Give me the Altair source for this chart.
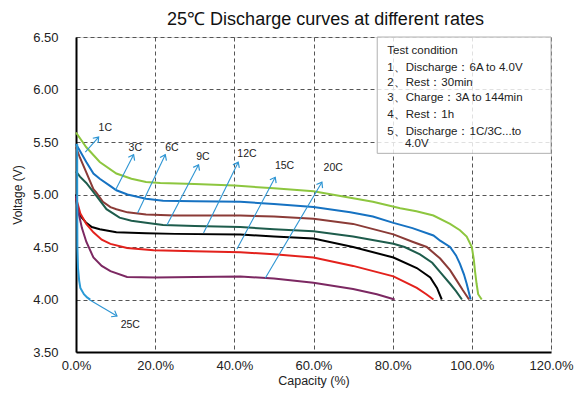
import math
import altair as alt
import pandas as pd

# ---------------- data ----------------
rates = ["1C", "3C", "6C", "9C", "12C", "15C", "20C", "25C"]
colors = ["#8DC63F", "#1672C2", "#8B3B37", "#1E5C4C", "#000000", "#E3211C", "#7C2862", "#2A9AD6"]

cap_1C = [0, 2.6, 6, 10.2, 14, 17.7, 21.3, 30, 40, 50, 60, 69.3, 75, 81.9, 86, 90.3, 94.5, 97, 98.7, 100, 100.5, 100.8, 101.2, 101.6, 102.5]
v_1C = [5.59, 5.45, 5.31, 5.20, 5.15, 5.12, 5.11, 5.10, 5.085, 5.06, 5.03, 4.97, 4.93, 4.87, 4.84, 4.80, 4.72, 4.66, 4.60, 4.50, 4.38, 4.27, 4.15, 4.05, 4.00]

cap_3C = [0, 2.6, 4.4, 6, 8.7, 10.2, 13, 17.7, 22, 30, 41.5, 50, 60, 69.3, 75, 80.2, 85, 90.3, 92, 94.5, 96, 97, 98, 98.7, 99.7]
v_3C = [5.48, 5.31, 5.20, 5.15, 5.08, 5.04, 5.00, 4.96, 4.94, 4.935, 4.93, 4.91, 4.88, 4.83, 4.79, 4.73, 4.68, 4.61, 4.56, 4.50, 4.42, 4.34, 4.24, 4.15, 4.00]

cap_6C = [0, 1, 2.6, 4.4, 5.1, 6.8, 8.7, 10.2, 13, 17.7, 25, 41.5, 50, 60, 70, 80.2, 85, 88.6, 92, 94.5, 96.2, 97.7, 99.3]
v_6C = [5.45, 5.35, 5.21, 5.05, 5.02, 4.93, 4.88, 4.86, 4.83, 4.81, 4.80, 4.80, 4.79, 4.77, 4.72, 4.62, 4.55, 4.50, 4.39, 4.28, 4.18, 4.09, 4.00]

cap_9C = [0, 1, 2.6, 5.1, 7.7, 11, 14, 17.7, 22, 30, 41.5, 50, 60, 70, 80.2, 83, 86.9, 90, 92, 94.5, 96, 97.5]
v_9C = [5.22, 5.17, 5.11, 4.99, 4.86, 4.78, 4.75, 4.73, 4.71, 4.70, 4.69, 4.67, 4.65, 4.60, 4.53, 4.50, 4.43, 4.35, 4.26, 4.15, 4.08, 4.00]

cap_12C = [0, 0.3, 1, 2.6, 4, 6, 10.2, 17.7, 25, 41.5, 50, 60, 70, 80.2, 86.1, 89.5, 91.2, 92.4]
v_12C = [5.00, 4.88, 4.80, 4.73, 4.69, 4.67, 4.64, 4.63, 4.625, 4.62, 4.60, 4.58, 4.50, 4.40, 4.30, 4.21, 4.11, 4.00]

cap_15C = [0, 0.5, 1.1, 2.6, 4.4, 6.5, 8.7, 12.9, 19.6, 30, 41.5, 50, 60, 70, 80.2, 86.1, 88.5, 90.3]
v_15C = [4.97, 4.90, 4.82, 4.72, 4.64, 4.57, 4.53, 4.49, 4.47, 4.46, 4.45, 4.43, 4.40, 4.32, 4.22, 4.11, 4.05, 4.00]

cap_20C = [0, 0.5, 1.5, 2.6, 4.4, 6.5, 8.7, 12.9, 20, 30, 41.5, 50, 60, 70, 76, 80.5]
v_20C = [4.99, 4.85, 4.68, 4.55, 4.40, 4.32, 4.27, 4.215, 4.21, 4.215, 4.22, 4.20, 4.16, 4.10, 4.05, 4.00]

cap_25C = [0.3, 0.3, 0.35, 0.5, 0.8, 1.1, 2.0, 2.8, 3.6]
v_25C = [5.48, 5.00, 4.50, 4.30, 4.18, 4.11, 4.05, 4.02, 4.00]

# arrows (tail -> head) and rate labels
arrow_x0 = [2.35, 9.92, 15.56, 22.98, 32.22, 40.66, 47.8, 3.18]
arrow_y0 = [5.403, 5.037, 4.824, 4.709, 4.633, 4.48, 4.203, 4.002]
arrow_x1 = [5.71, 14.55, 22.55, 30.96, 40.98, 50.33, 62.12, 10.35]
arrow_y1 = [5.547, 5.379, 5.379, 5.283, 5.308, 5.164, 5.117, 3.842]
label_x = [7.4, 14.97, 24.24, 32.07, 43.18, 52.68, 64.97, 13.71]
label_y = [5.633, 5.446, 5.446, 5.356, 5.388, 5.27, 5.248, 3.756]

# test-condition box
box_lines = ["Test condition", "1、Discharge：6A to 4.0V", "2、Rest：30min",
             "3、Charge：3A to 144min", "4、Rest：1h", "5、Discharge：1C/3C...to", "4.0V"]
box_text_x = [78.65, 78.65, 78.65, 78.65, 78.65, 78.65, 83.1]
box_text_y = [6.367, 6.208, 6.059, 5.916, 5.757, 5.598, 5.478]
box_x = [76.1, 120.0]
box_y = [6.5, 5.392]

x_ticks = [0, 20, 40, 60, 80, 100, 120]
y_ticks = [3.5, 4.0, 4.5, 5.0, 5.5, 6.0, 6.5]

# ---------------- build tables ----------------
W, H = 475, 315
XMIN, XMAX, YMIN, YMAX = 0, 120, 3.5, 6.5

series = {
    "1C": (cap_1C, v_1C), "3C": (cap_3C, v_3C), "6C": (cap_6C, v_6C), "9C": (cap_9C, v_9C),
    "12C": (cap_12C, v_12C), "15C": (cap_15C, v_15C), "20C": (cap_20C, v_20C), "25C": (cap_25C, v_25C),
}
rows = []
for r in rates:
    cs, vs = series[r]
    for i, (c, v) in enumerate(zip(cs, vs)):
        rows.append({"rate": r, "cap": c, "v": v, "i": i})
curves = pd.DataFrame(rows)

pxx = W / (XMAX - XMIN)
pxy = H / (YMAX - YMIN)
angles = [math.degrees(math.atan2((x1 - x0) * pxx, (y1 - y0) * pxy)) % 360
          for x0, y0, x1, y1 in zip(arrow_x0, arrow_y0, arrow_x1, arrow_y1)]
arrows = pd.DataFrame({"rate": rates, "x0": arrow_x0, "y0": arrow_y0, "x1": arrow_x1,
                       "y1": arrow_y1, "ang": angles, "lx": label_x, "ly": label_y})
box_df = pd.DataFrame({"x": [box_x[0]], "x2": [box_x[1]], "y": [box_y[0]], "y2": [box_y[1]]})
box_txt = pd.DataFrame({"t": box_lines, "x": box_text_x, "y": box_text_y})

xs = alt.Scale(domain=[XMIN, XMAX], nice=False, zero=False)
ys = alt.Scale(domain=[YMIN, YMAX], nice=False, zero=False)

FONT = "Liberation Sans"
ARROW = "#2E95D3"

x_axis = alt.Axis(values=x_ticks, labelExpr="format(datum.value, '.1f') + '%'", title="Capacity (%)",
                  grid=True, gridDash=[4, 3], gridColor="#555555", gridWidth=1,
                  domainColor="black", domainWidth=2, ticks=False, labelPadding=7, labelFlush=False,
                  labelFontSize=13, titleFontSize=12.5, titlePadding=2, labelColor="#222222",
                  titleColor="#222222", titleFontWeight="normal", labelFont=FONT, titleFont=FONT)
y_axis = alt.Axis(values=y_ticks, format=".2f", title="Voltage (V)",
                  grid=True, gridDash=[4, 3], gridColor="#555555", gridWidth=1,
                  domainColor="black", domainWidth=2, ticks=False, labelPadding=18, labelFlush=False,
                  labelFontSize=13, titleFontSize=12, titlePadding=8, labelColor="#222222",
                  titleColor="#222222", titleFontWeight="normal", labelFont=FONT, titleFont=FONT)

base_curves = alt.Chart(curves).mark_line(strokeWidth=2).encode(
    x=alt.X("cap:Q", scale=xs, axis=x_axis),
    y=alt.Y("v:Q", scale=ys, axis=y_axis),
    color=alt.Color("rate:N", scale=alt.Scale(domain=rates, range=colors), legend=None),
    order="i:Q",
    detail="rate:N",
)

box = alt.Chart(box_df).mark_rect(fill="white", fillOpacity=0.82, stroke="#B0B0B0", strokeWidth=1).encode(
    x=alt.X("x:Q", scale=xs), x2="x2:Q", y=alt.Y("y:Q", scale=ys), y2="y2:Q")

box_text = alt.Chart(box_txt).mark_text(align="left", baseline="middle", fontSize=11.5, font=FONT,
                                        color="#222222").encode(
    x=alt.X("x:Q", scale=xs), y=alt.Y("y:Q", scale=ys), text="t:N")

arrow_lines = alt.Chart(arrows).mark_rule(color=ARROW, strokeWidth=1.1).encode(
    x=alt.X("x0:Q", scale=xs), y=alt.Y("y0:Q", scale=ys), x2="x1:Q", y2="y1:Q")

arrow_heads = alt.Chart(arrows).mark_point(
    shape="M -0.75 1 L 0 0 L 0.75 1", filled=False, stroke=ARROW, strokeWidth=1.2, size=90, opacity=1
).encode(x=alt.X("x1:Q", scale=xs), y=alt.Y("y1:Q", scale=ys), angle=alt.Angle("ang:Q", scale=None))

rate_labels = alt.Chart(arrows).mark_text(align="center", baseline="middle", fontSize=10.5, font=FONT,
                                          color="#222222").encode(
    x=alt.X("lx:Q", scale=xs), y=alt.Y("ly:Q", scale=ys), text="rate:N")

chart = alt.layer(box, base_curves, arrow_lines, arrow_heads, rate_labels, box_text).properties(
    width=W, height=H,
    title=alt.TitleParams("25℃ Discharge curves at different rates", fontSize=18, font=FONT,
                          fontWeight="normal", color="#111111", anchor="middle", dx=12, offset=2),
    padding={"left": 68, "top": 29, "right": 26, "bottom": 38},
    autosize=alt.AutoSizeParams(type="none"),
).configure_view(stroke="black", strokeWidth=1.5).configure(background="white")

chart.save("out.html", embed_options={"renderer": "svg", "actions": False})
